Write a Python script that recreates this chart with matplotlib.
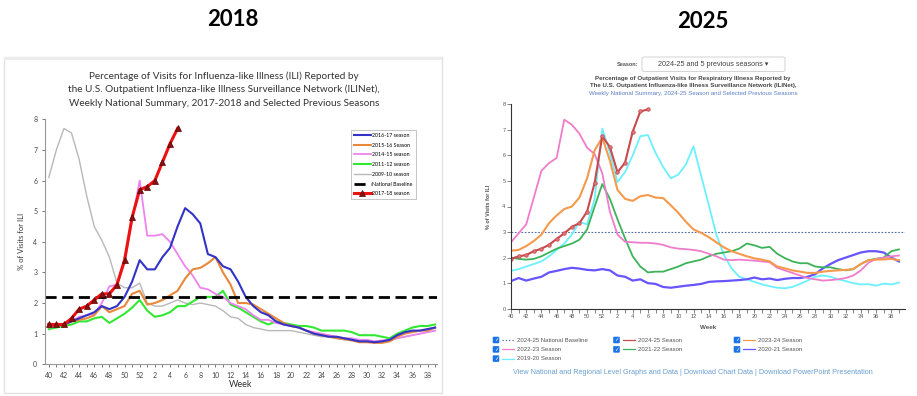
import matplotlib
matplotlib.use("Agg")
from matplotlib import pyplot as plt
import matplotlib.patches as mpatches
from matplotlib.lines import Line2D

# ---- data -------------------------------------------------------------
weeks = list(range(40, 53)) + list(range(1, 40))

# 2018 chart
s2017_18 = [1.3, 1.3, 1.3, 1.5, 1.8, 1.9, 2.1, 2.3, 2.3, 2.6, 3.4, 4.8, 5.7,
            5.8, 6.0, 6.6, 7.2, 7.7]
s2016_17 = [1.3, 1.3, 1.3, 1.4, 1.5, 1.6, 1.7, 1.9, 1.8, 1.9, 2.2, 2.7, 3.4,
            3.1, 3.1, 3.5, 3.8, 4.5, 5.1, 4.9, 4.6, 3.6, 3.5, 3.2, 3.1, 2.7,
            2.2, 1.9, 1.7, 1.6, 1.4, 1.3, 1.25, 1.2, 1.1, 1.0, 0.95, 0.9,
            0.9, 0.85, 0.8, 0.75, 0.75, 0.72, 0.75, 0.8, 0.95, 1.05, 1.1,
            1.1, 1.15, 1.2]
s2015_16 = [1.25, 1.25, 1.3, 1.4, 1.45, 1.5, 1.6, 1.9, 1.7, 1.8, 1.9, 2.3,
            2.4, 1.95, 2.0, 2.1, 2.25, 2.4, 2.8, 3.1, 3.15, 3.3, 3.5, 3.0,
            2.6, 2.0, 2.0, 1.95, 1.8, 1.65, 1.5, 1.35, 1.25, 1.2, 1.1, 1.0,
            0.95, 0.9, 0.85, 0.82, 0.78, 0.72, 0.72, 0.7, 0.7, 0.75, 0.9,
            1.0, 1.05, 1.1, 1.1, 1.2]
s2014_15 = [1.2, 1.25, 1.3, 1.4, 1.55, 1.6, 1.65, 2.0, 2.55, 2.6, 3.3, 4.7,
            6.0, 4.2, 4.2, 4.25, 4.0, 3.6, 3.2, 2.9, 2.5, 2.45, 2.3, 2.2,
            2.0, 1.9, 1.8, 1.6, 1.45, 1.45, 1.35, 1.3, 1.25, 1.2, 1.1, 1.05,
            1.0, 0.95, 0.9, 0.85, 0.85, 0.8, 0.8, 0.75, 0.78, 0.8, 0.85,
            0.9, 0.95, 1.0, 1.05, 1.1]
s2011_12 = [1.15, 1.2, 1.25, 1.3, 1.4, 1.4, 1.5, 1.55, 1.35, 1.5, 1.65,
            1.85, 2.1, 1.75, 1.55, 1.6, 1.7, 1.9, 1.9, 2.05, 2.2, 2.2, 2.2,
            2.4, 1.95, 1.85, 1.7, 1.55, 1.4, 1.3, 1.4, 1.35, 1.3, 1.25, 1.25,
            1.2, 1.1, 1.1, 1.1, 1.1, 1.05, 0.95, 0.95, 0.95, 0.9, 0.85, 1.0,
            1.1, 1.2, 1.25, 1.25, 1.3]
s2009_10 = [6.1, 7.0, 7.7, 7.55, 6.7, 5.5, 4.5, 4.05, 3.5, 2.65, 2.5, 2.5,
            2.65, 2.0, 1.9, 1.9, 2.0, 2.1, 2.0, 1.95, 2.0, 1.95, 1.9, 1.75,
            1.55, 1.5, 1.3, 1.2, 1.15, 1.1, 1.1, 1.1, 1.1, 1.05, 1.0, 0.95,
            0.9, 0.9, 0.85, 0.8, 0.8, 0.75, 0.75, 0.75, 0.75, 0.75, 0.85,
            0.9, 0.95, 1.0, 1.05, 1.1]
baseline_2018 = 2.2

# 2025 chart
s2024_25 = [1.95, 2.05, 2.1, 2.25, 2.35, 2.5, 2.73, 2.95, 3.2, 3.35, 3.8,
            4.93, 6.75, 6.33, 5.34, 5.72, 6.93, 7.72, 7.8]
s2023_24 = [2.27, 2.3, 2.45, 2.65, 2.9, 3.35, 3.65, 3.9, 4.0, 4.35, 5.1, 6.2,
            6.7, 5.8, 4.65, 4.3, 4.22, 4.4, 4.45, 4.35, 4.33, 4.05, 3.75,
            3.4, 3.1, 2.97, 2.8, 2.6, 2.4, 2.25, 2.15, 2.05, 1.97, 1.92,
            1.85, 1.65, 1.58, 1.5, 1.45, 1.4, 1.4, 1.45, 1.48, 1.5, 1.52,
            1.55, 1.75, 1.9, 1.92, 1.93, 1.95, 1.9]
s2022_23 = [2.6, 2.95, 3.3, 4.35, 5.4, 5.7, 5.9, 7.4, 7.2, 6.85, 6.3, 6.05,
            5.3, 3.8, 2.9, 2.62, 2.6, 2.58, 2.58, 2.55, 2.5, 2.4, 2.35, 2.33,
            2.3, 2.25, 2.15, 2.05, 1.92, 1.9, 1.92, 1.9, 1.88, 1.85, 1.82,
            1.6, 1.5, 1.4, 1.3, 1.2, 1.15, 1.1, 1.12, 1.15, 1.2, 1.3, 1.5,
            1.8, 1.95, 2.0, 2.05, 2.08]
s2021_22 = [2.0, 1.95, 1.92, 1.95, 2.05, 2.2, 2.35, 2.45, 2.55, 2.7, 3.1,
            4.0, 4.88, 4.3, 3.5, 2.75, 2.05, 1.65, 1.42, 1.45, 1.45, 1.55,
            1.65, 1.78, 1.85, 1.92, 2.05, 2.15, 2.2, 2.25, 2.35, 2.55, 2.48,
            2.38, 2.42, 2.15, 1.98, 1.85, 1.78, 1.78, 1.65, 1.62, 1.62, 1.55,
            1.5, 1.55, 1.75, 1.9, 1.95, 2.0, 2.25, 2.32]
s2020_21 = [1.08, 1.2, 1.1, 1.18, 1.25, 1.42, 1.48, 1.55, 1.6, 1.57, 1.52,
            1.5, 1.55, 1.5, 1.3, 1.25, 1.1, 1.15, 1.0, 0.97, 0.85, 0.82,
            0.86, 0.9, 0.93, 0.97, 1.05, 1.07, 1.08, 1.1, 1.12, 1.15, 1.22,
            1.15, 1.18, 1.12, 1.17, 1.2, 1.2, 1.25, 1.35, 1.58, 1.75, 1.9,
            2.0, 2.1, 2.2, 2.25, 2.25, 2.2, 2.0, 1.85]
s2019_20 = [1.48, 1.55, 1.65, 1.75, 1.85, 2.05, 2.3, 2.55, 2.9, 3.4, 3.3,
            4.3, 7.05, 6.1, 4.95, 5.35, 6.0, 6.75, 6.8, 6.1, 5.55, 5.1, 5.25,
            5.65, 6.35, 5.2, 4.06, 2.9, 2.1, 1.58, 1.25, 1.15, 1.05, 0.95,
            0.88, 0.82, 0.8, 0.85, 0.97, 1.1, 1.25, 1.3, 1.25, 1.15, 1.08,
            1.0, 0.95, 0.96, 0.9, 0.98, 0.95, 1.02]
baseline_2025 = 3.0

W, H = 917, 396


def fx(px):
    return px / W


def fy(py):
    return 1 - py / H


fig = plt.figure(figsize=(W / 100, H / 100), dpi=100)

fig.text(fx(233), fy(20), "2018", ha="center", va="center",
         fontsize=16, fontweight="bold", family="Lato")
fig.text(fx(703), fy(21), "2025", ha="center", va="center",
         fontsize=16, fontweight="bold", family="Lato")

# left screenshot frame
fig.patches.append(mpatches.Rectangle((fx(4), fy(393)), fx(438), (393 - 57) / H,
                                      transform=fig.transFigure, fill=False,
                                      edgecolor="#e2e2e2", lw=1))
fig.patches.append(mpatches.Rectangle((fx(4), fy(60)), fx(438), 3 / H,
                                      transform=fig.transFigure,
                                      facecolor="#ececec", edgecolor="none"))

# ---- 2018 chart ----
x_all = list(range(len(weeks)))
ax1 = fig.add_axes([fx(45), fy(364.3), fx(437 - 45), (364.3 - 119.3) / H])
ax1.plot(x_all, s2009_10, color="#b8b8b8", lw=1.0, label="2009-10 season")
ax1.plot(x_all, s2011_12, color="#33e833", lw=1.5, label="2011-12 season")
ax1.plot(x_all, s2014_15, color="#ee82ee", lw=1.3, label="2014-15 season")
ax1.plot(x_all, s2015_16, color="#e8883a", lw=1.5, label="2015-16 Season")
ax1.plot(x_all, s2016_17, color="#3333c8", lw=1.5, label="2016-17 season")
ax1.axhline(baseline_2018, color="black", lw=2, ls=(0, (4, 2)),
            label="National Baseline")
ax1.plot(x_all[:len(s2017_18)], s2017_18, color="#ee1111", lw=2.2,
         marker="^", ms=4, mfc="#8b1010", mec="#5a0000", mew=0.5,
         label="2017-18 season")
ax1.set_xlim(-0.5, 51.25)
ax1.set_ylim(0, 8)
ax1.set_xticks(x_all)
ax1.set_xticklabels([str(w) if i % 2 == 0 else "" for i, w in enumerate(weeks)])
ax1.set_yticks(range(0, 9))
ax1.tick_params(labelsize=5, colors="#444444", length=2, width=0.5)
for sp in ("top", "right"):
    ax1.spines[sp].set_visible(False)
for sp in ("left", "bottom"):
    ax1.spines[sp].set_color("#999999")
    ax1.spines[sp].set_linewidth(0.8)
for t in ax1.get_xticklabels() + ax1.get_yticklabels():
    t.set_family("Lato")
ax1.set_xlabel("Week", fontsize=6.5, family="Lato", color="#333333", labelpad=1)
ax1.set_ylabel("% of Visits for ILI", fontsize=5.5, family="Lato",
               color="#333333", labelpad=6)

h, l = ax1.get_legend_handles_labels()
order = ["2016-17 season", "2015-16 Season", "2014-15 season",
         "2011-12 season", "2009-10 season", "National Baseline",
         "2017-18 season"]
hl = dict(zip(l, h))
leg1 = ax1.legend([hl[k] for k in order], order, loc="upper left",
                  bbox_to_anchor=(fx(348), fy(127)), bbox_transform=fig.transFigure,
                  frameon=True, fancybox=False, edgecolor="#aaaaaa",
                  handlelength=3.2, labelspacing=0.9, borderpad=0.6,
                  handletextpad=0.3, prop={"family": "Lato", "size": 3.8})
leg1.get_frame().set_linewidth(0.6)

title_l = ["Percentage of Visits for Influenza-like Illness (ILI) Reported by",
           "the U.S. Outpatient Influenza-like Illness Surveillance Network (ILINet),",
           "Weekly National Summary, 2017-2018 and Selected Previous Seasons"]
for ty, line in zip([76, 89.5, 103], title_l):
    fig.text(fx(224), fy(ty), line, ha="center", va="center", fontsize=7.2,
             family="Lato", color="#333333")

# ---- 2025 chart ----
ax2 = fig.add_axes([fx(511), fy(308.7), fx(905 - 511), (308.7 - 104.3) / H])
ax2.axhline(baseline_2025, color="#4a6aa8", lw=0.8, ls=(0, (1.5, 1.5)))
ax2.plot(x_all, s2019_20, color="#6cf0ff", lw=1.3)
ax2.plot(x_all, s2020_21, color="#6655ff", lw=1.6)
ax2.plot(x_all, s2021_22, color="#3cb35a", lw=1.3)
ax2.plot(x_all, s2022_23, color="#f07ccc", lw=1.3)
ax2.plot(x_all, s2023_24, color="#f5994c", lw=1.5)
ax2.plot(x_all[:len(s2024_25)], s2024_25, color="#c94a4d", lw=1.5,
         marker="o", ms=2.5, mfc="#e07a7c", mec="#c94a4d", mew=0.6)
ax2.set_xlim(0, 51.8)
ax2.set_ylim(0, 8)
ax2.set_xticks(x_all)
ax2.set_xticklabels([str(w) if i % 2 == 0 else "" for i, w in enumerate(weeks)])
ax2.set_yticks(range(0, 9))
ax2.tick_params(labelsize=4, colors="#555555", length=3, width=0.5, pad=1)
for sp in ("top", "right"):
    ax2.spines[sp].set_visible(False)
for sp in ("left", "bottom"):
    ax2.spines[sp].set_color("#333333")
    ax2.spines[sp].set_linewidth(0.8)
for t in ax2.get_xticklabels() + ax2.get_yticklabels():
    t.set_family("Liberation Sans")
ax2.set_xlabel("Week", fontsize=4.5, family="Liberation Sans", fontweight="bold",
               color="#555555", labelpad=4)
ax2.set_ylabel("% of Visits for ILI", fontsize=4, family="Liberation Sans",
               fontweight="bold", color="#555555", labelpad=8)

fig.text(fx(638), fy(64), "Season:", ha="right", va="center", fontsize=4,
         family="Liberation Sans", fontweight="bold", color="#555555")
fig.patches.append(mpatches.FancyBboxPatch((fx(642), fy(71.5)), fx(143), 14.5 / H,
                                           boxstyle="round,pad=0,rounding_size=0.003",
                                           transform=fig.transFigure,
                                           facecolor="white", edgecolor="#cccccc", lw=0.6))
fig.text(fx(713), fy(64), "2024-25 and 5 previous seasons \u25BE", ha="center",
         va="center", fontsize=5.2, family=["Liberation Sans", "DejaVu Sans"],
         color="#444444")
fig.text(fx(693), fy(78.3), "Percentage of Outpatient Visits for Respiratory Illness Reported by",
         ha="center", va="center", fontsize=4.4, family="Liberation Sans",
         fontweight="bold", color="#444444")
fig.text(fx(693), fy(85.7), "The U.S. Outpatient Influenza-like Illness Surveillance Network (ILINet),",
         ha="center", va="center", fontsize=4.4, family="Liberation Sans",
         fontweight="bold", color="#444444")
fig.text(fx(693), fy(93.3), "Weekly National Summary, 2024-25 Season and Selected Previous Seasons",
         ha="center", va="center", fontsize=4.4, family="Liberation Sans",
         color="#5b7fc4")

# checkbox legend
legend_items = [
    ("2024-25 National Baseline", "#4a6aa8", ":"),
    ("2024-25 Season", "#c94a4d", "-"),
    ("2023-24 Season", "#f5994c", "-"),
    ("2022-23 Season", "#f07ccc", "-"),
    ("2021-22 Season", "#3cb35a", "-"),
    ("2020-21 Season", "#6655ff", "-"),
    ("2019-20 Season", "#6cf0ff", "-"),
]
col_x = [496, 616.5, 737]
row_y = [340, 349.3, 358.7]
for k, (lab, col, ls) in enumerate(legend_items):
    cx = col_x[k % 3]
    cy = row_y[k // 3]
    fig.patches.append(mpatches.FancyBboxPatch((fx(cx - 3), fy(cy + 3)), fx(6), 6 / H,
                                               boxstyle="round,pad=0,rounding_size=0.001",
                                               transform=fig.transFigure,
                                               facecolor="#1a73e8", edgecolor="#1a73e8", lw=0.4))
    fig.text(fx(cx), fy(cy), "\u2713", ha="center", va="center", fontsize=4,
             color="white", family="DejaVu Sans", fontweight="bold")
    fig.lines.append(Line2D([fx(cx + 6), fx(cx + 18)], [fy(cy), fy(cy)],
                            transform=fig.transFigure, color=col, lw=0.9, ls=ls))
    fig.text(fx(cx + 21), fy(cy), lab, ha="left", va="center", fontsize=4.3,
             family="Liberation Sans", color="#555555")

fig.text(fx(693), fy(372.5),
         "View National and Regional Level Graphs and Data | Download Chart Data | Download PowerPoint Presentation",
         ha="center", va="center", fontsize=5.2, family="Liberation Sans",
         color="#6a9fd0")

fig.savefig("out.png", dpi=100, facecolor="white")
